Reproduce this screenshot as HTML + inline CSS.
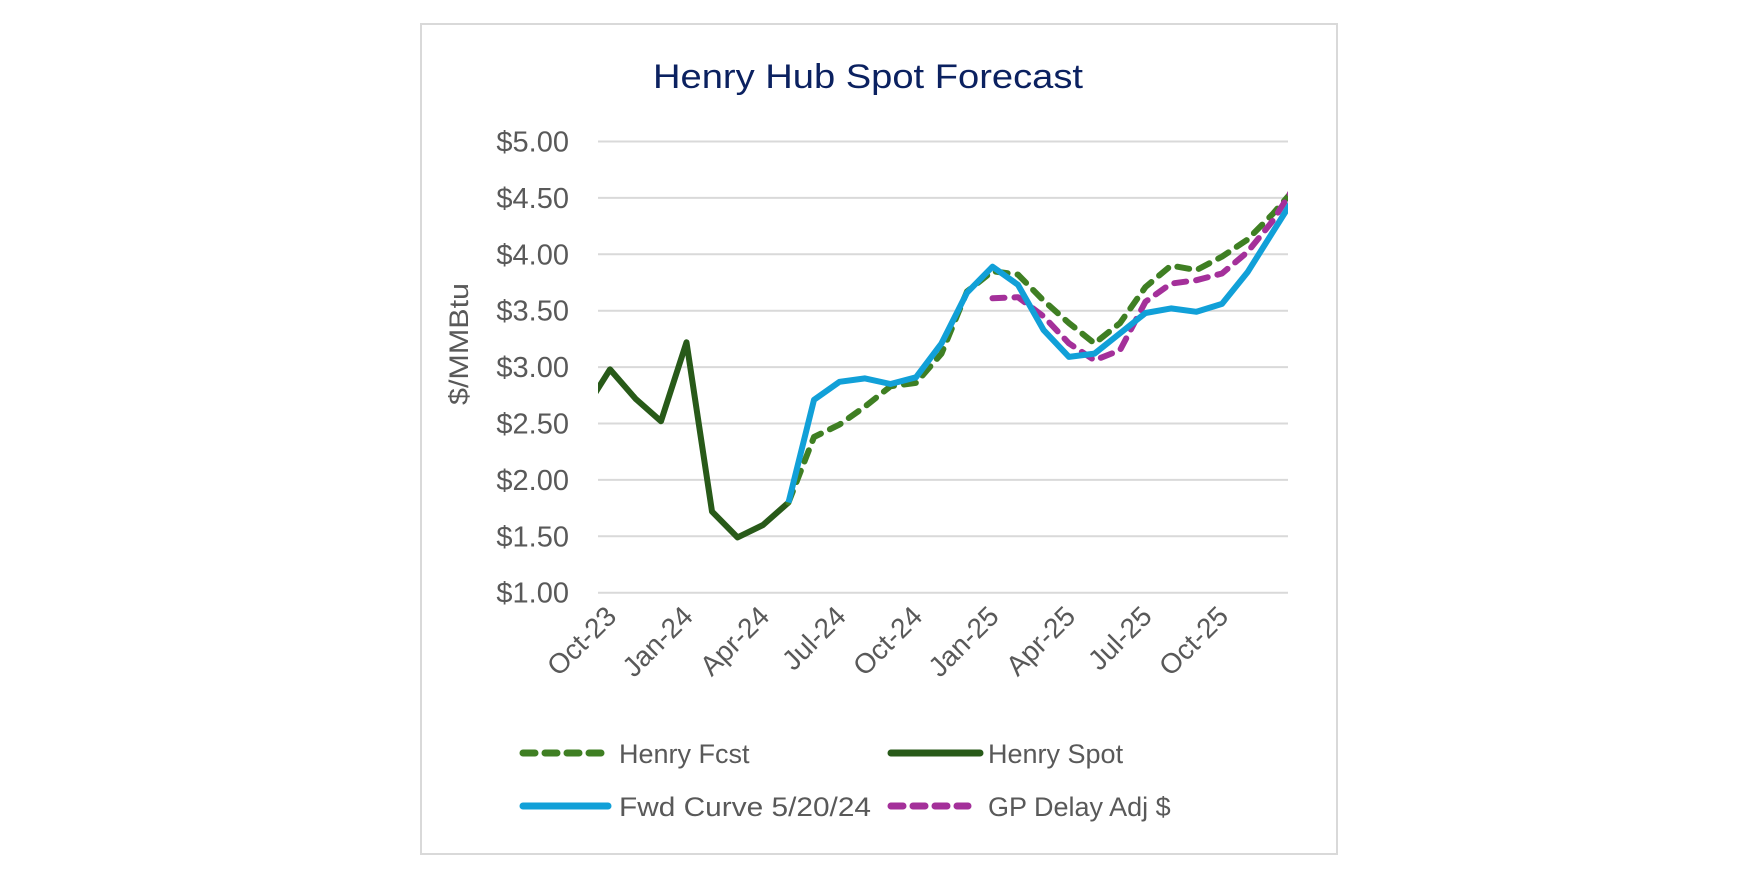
<!DOCTYPE html>
<html><head><meta charset="utf-8">
<style>
html,body{margin:0;padding:0;background:#fff;}
svg{display:block;font-family:"Liberation Sans",sans-serif;}
</style></head>
<body>
<svg id="chart" width="1750" height="875" viewBox="0 0 1750 875" xmlns="http://www.w3.org/2000/svg">
  <rect x="421" y="24" width="916" height="830" fill="#fff" stroke="#d9d9d9" stroke-width="2"/>
  <text x="868" y="88" text-anchor="middle" font-size="34" fill="#0b2160" textLength="430" lengthAdjust="spacingAndGlyphs">Henry Hub Spot Forecast</text>
  <text transform="translate(468,344) rotate(-90)" text-anchor="middle" font-size="27" fill="#595959" textLength="122" lengthAdjust="spacingAndGlyphs">$/MMBtu</text>
  <g id="grid"></g>
  <g id="ylabels"></g>
  <g id="xlabels"></g>
  <defs><clipPath id="plotclip"><rect x="598" y="100" width="690" height="520"/></clipPath></defs>
  <g id="series" clip-path="url(#plotclip)"></g>
  <g>
    <line x1="523" y1="753" x2="605" y2="753" stroke="#3f7f23" stroke-width="7" stroke-dasharray="12,10" stroke-linecap="round"/>
    <text x="619" y="763" font-size="27" fill="#595959">Henry Fcst</text>
    <line x1="891" y1="753" x2="980" y2="753" stroke="#285a19" stroke-width="7" stroke-linecap="round"/>
    <text x="988" y="763" font-size="27" fill="#595959">Henry Spot</text>
    <line x1="523" y1="806" x2="608" y2="806" stroke="#11a0d8" stroke-width="7" stroke-linecap="round"/>
    <text x="619" y="816" font-size="27" fill="#595959" textLength="252" lengthAdjust="spacingAndGlyphs">Fwd Curve 5/20/24</text>
    <line x1="891" y1="806" x2="968" y2="806" stroke="#a4309a" stroke-width="7" stroke-dasharray="12,10" stroke-linecap="round"/>
    <text x="988" y="816" font-size="27" fill="#595959">GP Delay Adj $</text>
  </g>
</svg>
<script>
// month index 0 = Oct-23
const yTicks = [1, 1.5, 2, 2.5, 3, 3.5, 4, 4.5, 5];
const yTickLabels = ["$1.00","$1.50","$2.00","$2.50","$3.00","$3.50","$4.00","$4.50","$5.00"];
const xTickIdx = [0, 3, 6, 9, 12, 15, 18, 21, 24];
const xTickLabels = ["Oct-23","Jan-24","Apr-24","Jul-24","Oct-24","Jan-25","Apr-25","Jul-25","Oct-25"];
const spotStart = -1;
const spotVals = [2.62, 2.98, 2.72, 2.52, 3.22, 1.72, 1.49, 1.60, 1.80];
const fcstStart = 7;
const fcstVals = [1.80, 2.38, 2.49, 2.65, 2.83, 2.86, 3.12, 3.67, 3.85, 3.82, 3.59, 3.39, 3.21, 3.39, 3.71, 3.90, 3.86, 3.98, 4.13, 4.36, 4.62];
const fwdStart = 7;
const fwdVals = [1.80, 2.71, 2.87, 2.90, 2.85, 2.91, 3.21, 3.66, 3.89, 3.73, 3.33, 3.09, 3.12, 3.30, 3.48, 3.52, 3.49, 3.56, 3.84, 4.20, 4.56];
const gpStart = 15;
const gpVals = [3.61, 3.62, 3.45, 3.21, 3.06, 3.15, 3.58, 3.74, 3.77, 3.83, 4.02, 4.30, 4.66];

const NS = "http://www.w3.org/2000/svg";
const X0 = 610, STEP = 25.5, PL = 598, PR = 1288;
function xScale(i){ return X0 + i*STEP; }
function yScale(v){ return 592.7 - (v-1)*112.8; }
function mk(tag, attrs, parent){
  const e = document.createElementNS(NS, tag);
  for (const k in attrs) e.setAttribute(k, attrs[k]);
  parent.appendChild(e); return e;
}
const grid = document.getElementById('grid');
const yl = document.getElementById('ylabels');
yTicks.forEach((v,i)=>{
  const l = mk('line',{x1:PL,x2:PR,y1:yScale(v),y2:yScale(v),stroke:'#d9d9d9','stroke-width':2},grid);
  
  
  const t = mk('text',{x:569,y:yScale(v)+10,'text-anchor':'end','font-size':29,fill:'#595959'},yl);
  
  
  t.textContent = yTickLabels[i];
});
const xl = document.getElementById('xlabels');
xTickIdx.forEach((idx,i)=>{
  const x = xScale(idx);
  const t = mk('text',{transform:`translate(${x+8},${618}) rotate(-45)`,'text-anchor':'end','font-size':28,fill:'#595959'},xl);
  
  
  t.textContent = xTickLabels[i];
});
const series = document.getElementById('series');
function drawLine(start, vals, color, dash, name){
  const pts = vals.map((v,i)=> xScale(start+i).toFixed(1)+','+yScale(v).toFixed(1)).join(' ');
  const attrs = {points:pts, fill:'none', stroke:color, 'stroke-width':6, 'stroke-linejoin':'round', 'stroke-linecap':dash?'round':'butt'};
  if (dash) attrs['stroke-dasharray'] = dash;
  const p = mk('polyline', attrs, series);
  
  
}
drawLine(spotStart, spotVals, '#285a19', null, 'series-henry-spot');
drawLine(fcstStart, fcstVals, '#3f7f23', '12,10', 'series-henry-fcst');
drawLine(gpStart, gpVals, '#a4309a', '12,10', 'series-gp-delay');
drawLine(fwdStart, fwdVals, '#11a0d8', null, 'series-fwd-curve');
</script>
</body></html>
